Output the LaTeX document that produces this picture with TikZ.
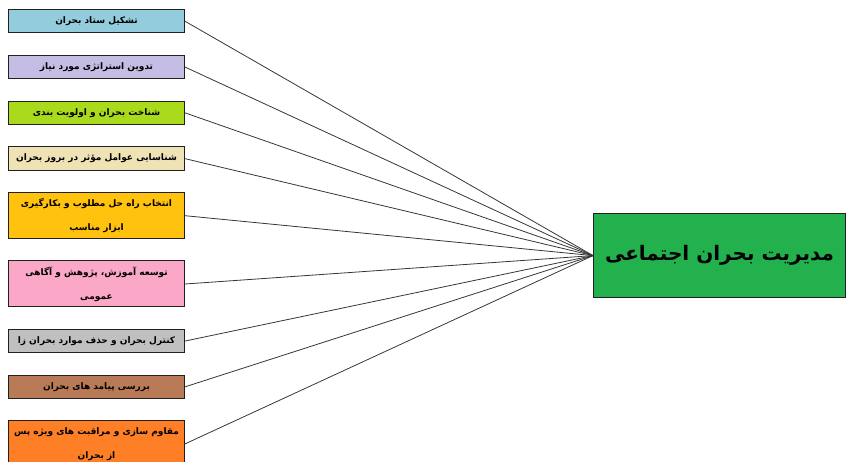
\documentclass[tikz,border=0pt]{standalone}
\usepackage{fontspec}
\usepackage{tikz}
\usetikzlibrary{positioning}
\TeXXeTstate=1
\newfontfamily\farsi[Script=Arabic]{DejaVu Sans}
\newcommand{\rtl}[1]{\beginR #1\endR}
\definecolor{ink}{HTML}{202020}
\definecolor{sky}{HTML}{93CDDD}
\definecolor{lilac}{HTML}{C5BDE3}
\definecolor{lime}{HTML}{A9DB1C}
\definecolor{sand}{HTML}{EFE3B6}
\definecolor{gold}{HTML}{FFC20E}
\definecolor{rose}{HTML}{FBA8C8}
\definecolor{ash}{HTML}{C0C0C0}
\definecolor{clay}{HTML}{B97A57}
\definecolor{flame}{HTML}{FF7F27}
\definecolor{leaf}{HTML}{22B14C}
\tikzset{
  link/.style={draw=ink!90,line width=0.8pt},
  box/.style={draw=ink,line width=1pt,minimum width=176pt,minimum height=23.5pt,
              align=center,inner sep=2pt,font=\farsi\bfseries\fontsize{9}{24}\selectfont},
  tall/.style={box,minimum height=46pt},
  main/.style={draw=ink,line width=1.2pt,fill=leaf,minimum width=252pt,minimum height=84pt,
               align=center,font=\farsi\bfseries\fontsize{20}{24}\selectfont},
}
\begin{document}
\begin{tikzpicture}[x=1pt,y=1pt,node distance=21.3pt]
  \useasboundingbox (0,0) rectangle (847,-462);
  \node[box,fill=sky,anchor=north west] (staff) at (8,-9) {\rtl{تشکیل ستاد بحران}};
  \node[box,fill=lilac,below=of staff] (strategy) {\rtl{تدوین استراتژی مورد نیاز}};
  \node[box,fill=lime,below=of strategy] (priority) {\rtl{شناخت بحران و اولویت بندی}};
  \node[box,fill=sand,below=of priority] (factors) {\rtl{شناسایی عوامل مؤثر در بروز بحران}};
  \node[tall,fill=gold,below=of factors] (solution)
    {\rtl{انتخاب راه حل مطلوب و بکارگیری}\\\rtl{ابزار مناسب}};
  \node[tall,fill=rose,below=of solution] (training)
    {\rtl{توسعه آموزش، پژوهش و آگاهی}\\\rtl{عمومی}};
  \node[box,fill=ash,below=of training] (control) {\rtl{کنترل بحران و حذف موارد بحران زا}};
  \node[box,fill=clay,below=of control] (outcome) {\rtl{بررسی پیامد های بحران}};
  \node[tall,fill=flame,below=of outcome] (recovery)
    {\rtl{مقاوم سازی و مراقبت های ویژه پس}\\\rtl{از بحران}};
  \node[main,anchor=north west] (crisis) at (593,-213) {\rtl{مدیریت بحران اجتماعی}};
  \foreach \src in {staff,strategy,priority,factors,solution,training,control,outcome,recovery}
    \draw[link] (\src.east) -- (crisis.west);
\end{tikzpicture}
\end{document}
